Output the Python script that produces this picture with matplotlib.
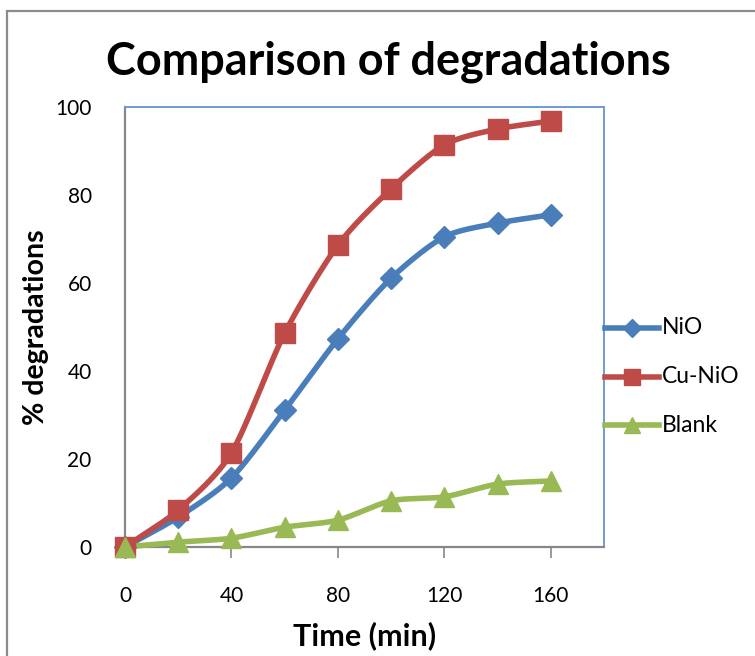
import numpy as np
import matplotlib
matplotlib.use("Agg")
import matplotlib.pyplot as plt
from matplotlib.lines import Line2D
from matplotlib.patches import Rectangle

plt.rcParams['font.family'] = ['Lato', 'DejaVu Sans']

time_min = [0, 20, 40, 60, 80, 100, 120, 140, 160]
nio = [0, 6.8, 15.7, 31.1, 47.3, 61.1, 70.5, 73.6, 75.5]
cu_nio = [0, 8.4, 21.4, 48.6, 68.6, 81.4, 91.4, 95.0, 96.8]
blank = [0, 1.1, 2.0, 4.5, 6.1, 10.5, 11.4, 14.3, 15.0]

series_names = ["NiO", "Cu-NiO", "Blank"]
colors = ["#4A7EBB", "#BE4B48", "#98B954"]
markers = ["D", "s", "^"]
msizes = [11.5, 14.5, 15]

x_ticks = [0, 40, 80, 120, 160]
y_ticks = [0, 20, 40, 60, 80, 100]


def smooth(x, y, n=30):
    """Catmull-Rom curve through the points, like a spreadsheet smoothed line."""
    x = np.asarray(x, float)
    y = np.asarray(y, float)
    P = np.column_stack([x, y])
    P = np.vstack([P[0] - (P[1] - P[0]), P, P[-1] + (P[-1] - P[-2])])
    out = []
    t = np.linspace(0, 1, n)
    for i in range(1, len(P) - 2):
        p0, p1, p2, p3 = P[i - 1], P[i], P[i + 1], P[i + 2]
        m1 = (p2 - p0) / 2 * 0.8
        m2 = (p3 - p1) / 2 * 0.8
        h00 = 2 * t**3 - 3 * t**2 + 1
        h10 = t**3 - 2 * t**2 + t
        h01 = -2 * t**3 + 3 * t**2
        h11 = t**3 - t**2
        seg = (h00[:, None] * p1 + h10[:, None] * m1 +
               h01[:, None] * p2 + h11[:, None] * m2)
        out.append(seg if i == 1 else seg[1:])
    out = np.vstack(out)
    return out[:, 0], out[:, 1]


W, H = 755, 656
fig = plt.figure(figsize=(W / 100, H / 100), dpi=100)

# outer chart border
fig.patches.append(Rectangle((7 / W, -0.05), 1.2, 1 - 11 / H + 0.05,
                             transform=fig.transFigure, fill=False,
                             edgecolor="#8C8C8C", linewidth=1.6))

ax = fig.add_axes([125 / W, 1 - 547 / H, (604 - 125) / W, (547 - 107) / H])
ax.set_xlim(0, 180)
ax.set_ylim(0, 100)

for vals, name, c, m, ms in zip([nio, cu_nio, blank], series_names, colors, markers, msizes):
    sx, sy = smooth(time_min, vals)
    ax.plot(sx, sy, color=c, linewidth=4, solid_capstyle="round", zorder=3, clip_on=False)
    ax.plot(time_min, vals, linestyle="none", marker=m, markersize=ms,
            color=c, markeredgecolor=c, zorder=4, clip_on=False)

ax.set_xticks(x_ticks)
ax.set_yticks(y_ticks)
ax.tick_params(axis="x", direction="out", length=8, width=1.2, color="#878787",
               pad=20, labelsize=15)
ax.tick_params(axis="y", length=0, pad=24, labelsize=15)

for side in ["top", "right"]:
    ax.spines[side].set_color("#6F9BD1")
    ax.spines[side].set_linewidth(1.4)
for side in ["left", "bottom"]:
    ax.spines[side].set_color("#878787")
    ax.spines[side].set_linewidth(1.6)

fig.text(388 / W, 1 - 62 / H, "Comparison of degradations", ha="center", va="center",
         fontsize=32.4, fontweight="bold")
fig.text(365 / W, 1 - 636 / H, "Time (min)", ha="center", va="center",
         fontsize=22, fontweight="bold")
fig.text(36 / W, 1 - 327 / H, "% degradations", ha="center", va="center",
         rotation=90, fontsize=20.5, fontweight="bold")

# legend
for i, (name, c, m, ms) in enumerate(zip(series_names, colors, markers, msizes)):
    yc = 1 - (328 + 48.5 * i) / H
    fig.add_artist(Line2D([605 / W, 659 / W], [yc, yc], color=c, linewidth=4,
                          transform=fig.transFigure))
    fig.add_artist(Line2D([632 / W], [yc], marker=m, markersize=ms * 0.8, color=c,
                          linestyle="none", transform=fig.transFigure))
    fig.text(662 / W, yc, name, ha="left", va="center", fontsize=16.5)

fig.savefig("out.png", dpi=100)
